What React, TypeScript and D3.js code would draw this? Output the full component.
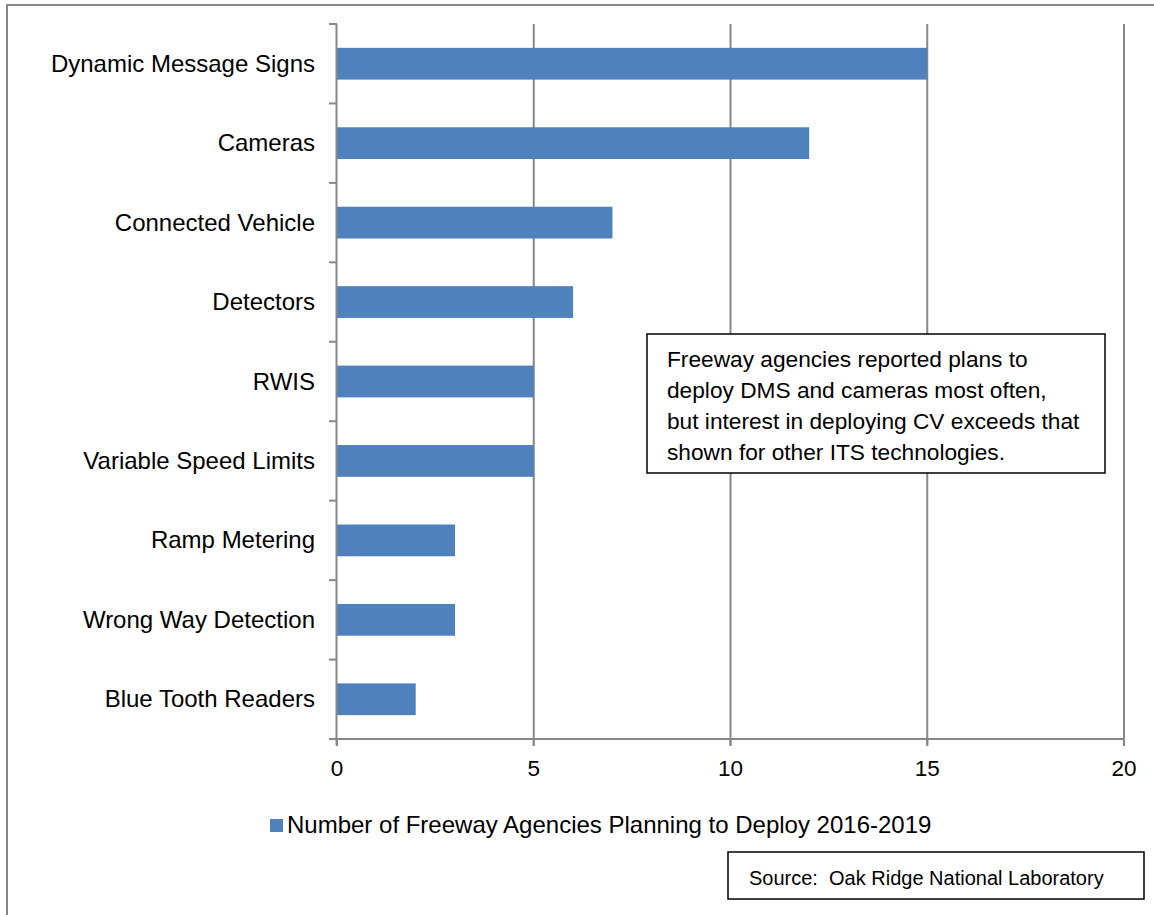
import React from "react";
import * as d3 from "d3";

const categories = [
  "Dynamic Message Signs",
  "Cameras",
  "Connected Vehicle",
  "Detectors",
  "RWIS",
  "Variable Speed Limits",
  "Ramp Metering",
  "Wrong Way Detection",
  "Blue Tooth Readers",
];
const values = [15, 12, 7, 6, 5, 5, 3, 3, 2];
const xTicks = [0, 5, 10, 15, 20];
const seriesName = "Number of Freeway Agencies Planning to Deploy 2016-2019";
const noteLines = [
  "Freeway agencies reported plans to",
  "deploy DMS and cameras most often,",
  "but interest in deploying CV exceeds that",
  "shown for other ITS technologies.",
];
const sourceText = "Source:  Oak Ridge National Laboratory";

const W = 1154;
const H = 915;
const FONT = "'Liberation Sans', Arial, sans-serif";
const BAR = "#4F81BD";
const GRID = "#878787";

export default function App() {
  const x = d3.scaleLinear().domain([0, 20]).range([337, 1124]);
  const y = d3.scaleBand().domain(categories).range([24, 739]).paddingInner(0.6).paddingOuter(0.3);
  const yb = d3.scaleBand().domain(categories).range([24, 739]);
  const bounds = categories.map((c) => yb(c) as number).concat([739]);

  return (
    <svg
      width={W}
      height={H}
      style={{ position: "absolute", left: 0, top: 0, fontFamily: FONT }}
    >
      <rect x={0} y={0} width={W} height={H} fill="#fff" />
      {/* outer frame */}
      <path d={`M7,${H + 2} V5 H${W + 2}`} fill="none" stroke={GRID} strokeWidth={2} />

      {/* gridlines */}
      {xTicks.slice(1).map((t) => (
        <line key={t} x1={x(t)} x2={x(t)} y1={24} y2={745} stroke={GRID} strokeWidth={2} />
      ))}
      {/* bars */}
      {categories.map((c, i) => (
        <rect
          key={c}
          x={x(0)}
          y={y(c)}
          width={x(values[i]) - x(0)}
          height={y.bandwidth()}
          fill={BAR}
        />
      ))}
      {/* y axis */}
      <line x1={336.5} x2={336.5} y1={24} y2={745} stroke={GRID} strokeWidth={2} />
      {bounds.map((b, i) => (
        <line key={i} x1={329} x2={337} y1={b} y2={b} stroke={GRID} strokeWidth={2} />
      ))}
      {/* x axis */}
      <line x1={329} x2={1125} y1={739} y2={739} stroke={GRID} strokeWidth={2} />
      {xTicks.map((t) => (
        <line key={t} x1={x(t)} x2={x(t)} y1={739} y2={746} stroke={GRID} strokeWidth={2} />
      ))}
      {xTicks.map((t) => (
        <text key={t} x={x(t)} y={776} textAnchor="middle" fontSize={22.5} fill="#000">
          {t}
        </text>
      ))}
      {/* category labels */}
      {categories.map((c) => (
        <text
          key={c}
          x={315}
          y={(y(c) as number) + y.bandwidth() / 2 + 8}
          textAnchor="end"
          fontSize={24}
          fill="#000"
        >
          {c}
        </text>
      ))}
      {/* legend */}
      <rect x={270} y={819} width={13} height={13} fill={BAR} />
      <text x={287} y={833} fontSize={24} fill="#000">
        {seriesName}
      </text>
      {/* note box */}
      <rect x={647} y={334} width={458} height={139} fill="#fff" stroke="#000" strokeWidth={1.5} />
      {noteLines.map((l, i) => (
        <text key={i} x={667} y={367 + i * 31} fontSize={22.7} fill="#000">
          {l}
        </text>
      ))}
      {/* source box */}
      <rect x={728} y={852} width={416} height={47} fill="#fff" stroke="#000" strokeWidth={1.5} />
      <text x={749} y={885} fontSize={20} fill="#000" style={{ whiteSpace: "pre" }}>
        {sourceText}
      </text>
    </svg>
  );
}
